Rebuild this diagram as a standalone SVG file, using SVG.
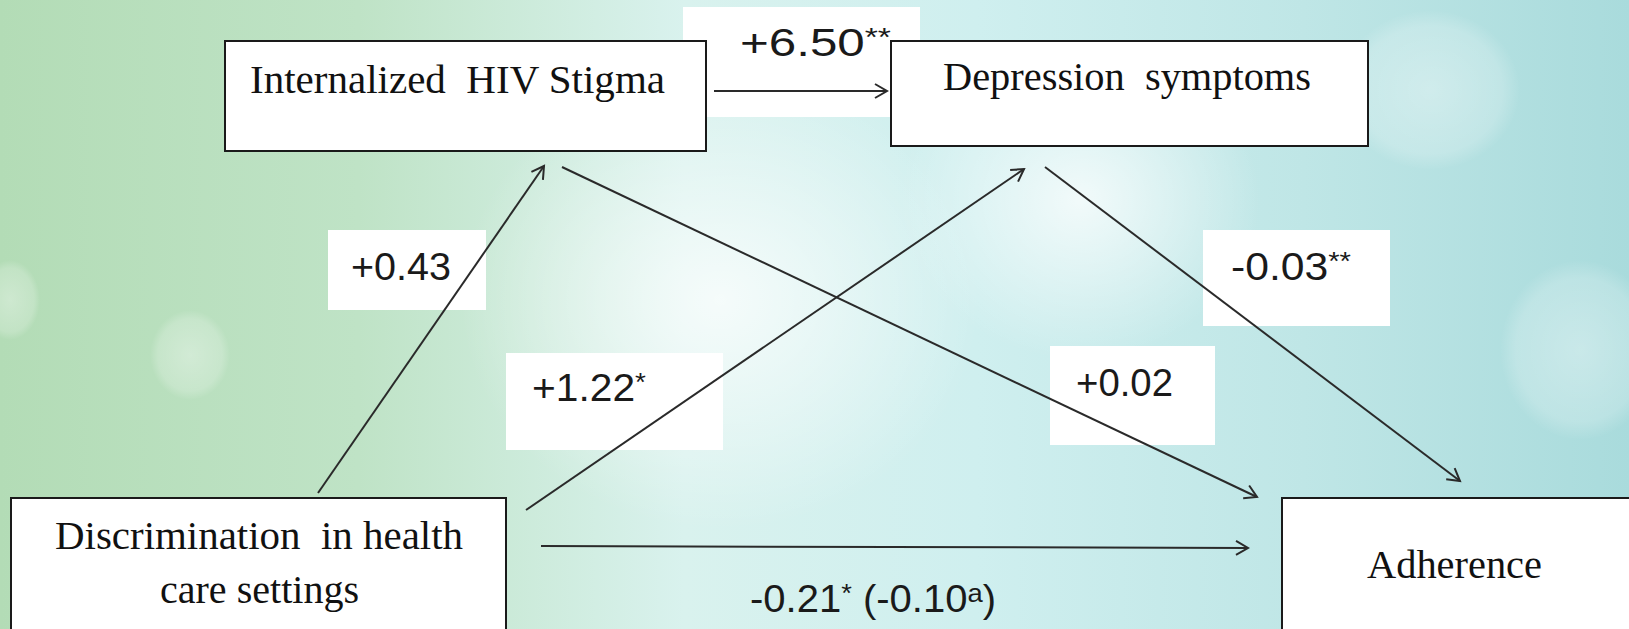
<svg xmlns="http://www.w3.org/2000/svg" width="1629" height="629" viewBox="0 0 1629 629">
<defs>
<linearGradient id="bg" x1="0" y1="0" x2="1" y2="0">
<stop offset="0" stop-color="#b3dcb6"/>
<stop offset="0.22" stop-color="#bfe3c6"/>
<stop offset="0.42" stop-color="#d9f2ee"/>
<stop offset="0.6" stop-color="#cfefef"/>
<stop offset="0.8" stop-color="#bfe6e6"/>
<stop offset="1" stop-color="#a9dbdc"/>
</linearGradient>
<radialGradient id="glow" cx="0.5" cy="0.5" r="0.5">
<stop offset="0" stop-color="#ffffff" stop-opacity="0.75"/>
<stop offset="1" stop-color="#ffffff" stop-opacity="0"/>
</radialGradient>
<radialGradient id="soft" cx="0.5" cy="0.5" r="0.5">
<stop offset="0" stop-color="#ffffff" stop-opacity="0.35"/>
<stop offset="0.8" stop-color="#ffffff" stop-opacity="0.2"/>
<stop offset="1" stop-color="#ffffff" stop-opacity="0"/>
</radialGradient>
<marker id="arr" markerWidth="20" markerHeight="20" refX="17" refY="10" orient="auto" markerUnits="userSpaceOnUse">
<path d="M5,3 L17,10 L5,17" fill="none" stroke="#2a2a2a" stroke-width="2"/>
</marker>
<style>
.node rect{fill:#ffffff;stroke:#1a1a1a;stroke-width:2}
.ntext{font-family:"Liberation Serif","Times New Roman",serif;font-size:40px;fill:#111;white-space:pre}
.lbl rect{fill:#ffffff}
.ltext{font-family:"Liberation Sans",Arial,sans-serif;font-size:38px;fill:#1a1a1a}
.sup{font-size:26px}
.conn line{stroke:#2a2a2a;stroke-width:2;marker-end:url(#arr)}
</style>
</defs>
<rect width="1629" height="629" fill="url(#bg)"/>
<ellipse cx="720" cy="300" rx="260" ry="230" fill="url(#glow)"/>
<ellipse cx="1080" cy="200" rx="180" ry="160" fill="url(#glow)"/>
<ellipse cx="1430" cy="90" rx="90" ry="80" fill="url(#soft)"/>
<ellipse cx="190" cy="355" rx="40" ry="45" fill="url(#soft)"/>
<ellipse cx="1580" cy="350" rx="80" ry="90" fill="url(#soft)"/>
<ellipse cx="10" cy="300" rx="30" ry="40" fill="url(#soft)"/>

<g class="lbl" id="label-650">
<rect x="683" y="7" width="237" height="110"/>
<text class="ltext" x="740" y="56" textLength="151" lengthAdjust="spacingAndGlyphs">+6.50<tspan class="sup" dy="-10">**</tspan></text>
</g>
<g class="lbl" id="label-043">
<rect x="328" y="230" width="158" height="80"/>
<text class="ltext" x="351" y="280" textLength="100" lengthAdjust="spacingAndGlyphs">+0.43</text>
</g>
<g class="lbl" id="label-122">
<rect x="506" y="353" width="217" height="97"/>
<text class="ltext" x="532" y="401" textLength="114" lengthAdjust="spacingAndGlyphs">+1.22<tspan class="sup" dy="-10">*</tspan></text>
</g>
<g class="lbl" id="label-003">
<rect x="1203" y="230" width="187" height="96"/>
<text class="ltext" x="1231" y="280" textLength="120" lengthAdjust="spacingAndGlyphs">-0.03<tspan class="sup" dy="-10">**</tspan></text>
</g>
<g class="lbl" id="label-002">
<rect x="1050" y="346" width="165" height="99"/>
<text class="ltext" x="1076" y="396" textLength="97" lengthAdjust="spacingAndGlyphs">+0.02</text>
</g>
<g id="label-021">
<text class="ltext" x="750" y="612" textLength="246" lengthAdjust="spacingAndGlyphs">-0.21<tspan class="sup" dy="-10">*</tspan><tspan dy="10"> (-0.10</tspan><tspan class="sup" dy="-10">a</tspan><tspan dy="10">)</tspan></text>
</g>

<g class="conn" id="connectors">
<line x1="714" y1="91" x2="887" y2="91"/>
<line x1="318" y1="493" x2="544" y2="166"/>
<line x1="526" y1="510" x2="1024" y2="169"/>
<line x1="562" y1="167" x2="1257" y2="497"/>
<line x1="1045" y1="167" x2="1460" y2="481"/>
<line x1="541" y1="546" x2="1248" y2="548"/>
</g>

<g class="node" id="node-stigma">
<rect x="225" y="41" width="481" height="110"/>
<text class="ntext" xml:space="preserve" x="250" y="93" textLength="415" lengthAdjust="spacingAndGlyphs">Internalized  HIV Stigma</text>
</g>
<g class="node" id="node-depression">
<rect x="891" y="41" width="477" height="105"/>
<text class="ntext" xml:space="preserve" x="943" y="90" textLength="368" lengthAdjust="spacingAndGlyphs">Depression  symptoms</text>
</g>
<g class="node" id="node-discrimination">
<rect x="11" y="498" width="495" height="140"/>
<text class="ntext" xml:space="preserve" x="55" y="549" textLength="408" lengthAdjust="spacingAndGlyphs">Discrimination  in health</text>
<text class="ntext" x="160" y="603" textLength="199" lengthAdjust="spacingAndGlyphs">care settings</text>
</g>
<g class="node" id="node-adherence">
<rect x="1282" y="498" width="360" height="140"/>
<text class="ntext" x="1367" y="578" textLength="175" lengthAdjust="spacingAndGlyphs">Adherence</text>
</g>
</svg>
